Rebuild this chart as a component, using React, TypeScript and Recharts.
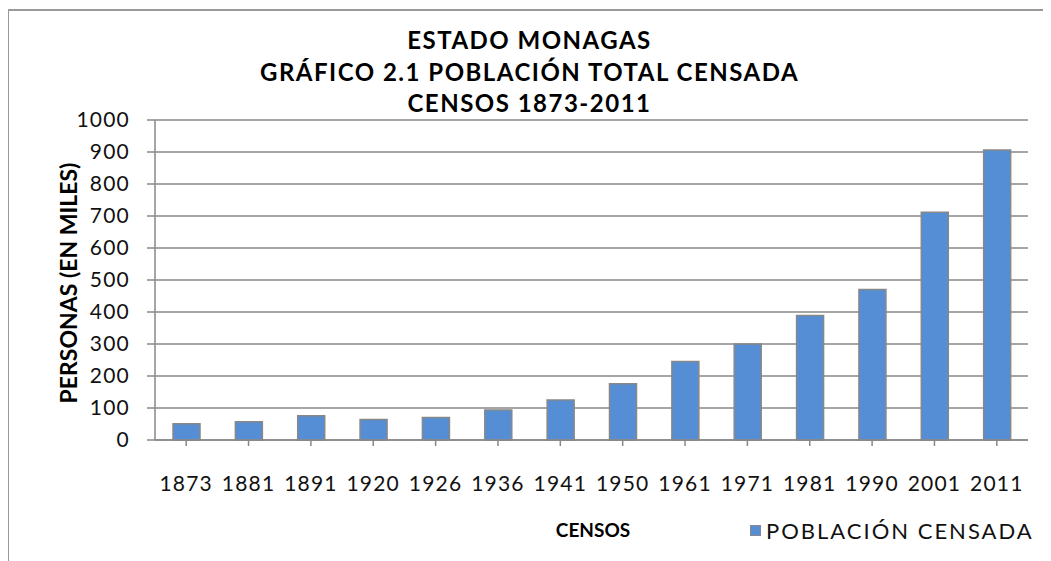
import { BarChart, Bar, XAxis, YAxis, CartesianGrid } from "recharts";

const years = ["1873", "1881", "1891", "1920", "1926", "1936", "1941", "1950", "1961", "1971", "1981", "1990", "2001", "2011"];
const poblacion = [51, 57, 76, 64, 70, 94, 125, 176, 245, 300, 389, 470, 712, 906];
const yTicks = [0, 100, 200, 300, 400, 500, 600, 700, 800, 900, 1000];

const data = years.map((y, i) => ({ censo: y, valor: poblacion[i] }));

const font = "Lato, 'Open Sans', sans-serif";
const tickStyle = { fill: "#111", fontFamily: font, fontSize: 21, letterSpacing: 1.2 };

const App = () => {
  return (
    <div style={{ position: "relative", width: 1043, height: 553 }}>
      <div style={{ position: "absolute", left: 0, top: 16, width: 1043, textAlign: "center", fontFamily: font, fontWeight: 700, fontSize: 24, letterSpacing: 1.5, lineHeight: "31.5px", color: "#000" }}>
        <div>ESTADO MONAGAS</div>
        <div>GRÁFICO 2.1 POBLACIÓN TOTAL CENSADA</div>
        <div>CENSOS 1873-2011</div>
      </div>
      <div style={{ position: "absolute", left: 60, top: 275, transform: "translate(-50%, -50%) rotate(-90deg)", whiteSpace: "nowrap", fontFamily: font, fontWeight: 700, fontSize: 23, color: "#000" }}>
        PERSONAS (EN MILES)
      </div>
      <div style={{ position: "absolute", left: 585, top: 510, transform: "translateX(-50%)", fontFamily: font, fontWeight: 700, fontSize: 19, color: "#000" }}>
        CENSOS
      </div>
      <div style={{ position: "absolute", left: 742, top: 509, display: "flex", alignItems: "center", fontFamily: font, fontSize: 22, letterSpacing: 2, color: "#111", whiteSpace: "nowrap" }}>
        <span style={{ display: "inline-block", width: 9, height: 9, background: "#558ed5", border: "1.5px solid #888", marginRight: 5 }} />
        POBLACIÓN CENSADA
      </div>
      <BarChart width={1043} height={553} data={data} margin={{ top: 112, right: 23, bottom: 91, left: 77 }} barSize={27}>
        <CartesianGrid vertical={false} stroke="#888" strokeWidth={1.5} />
        <XAxis
          dataKey="censo"
          height={30}
          stroke="#888"
          strokeWidth={1.5}
          tickSize={6}
          interval={0}
          tick={tickStyle}
          tickMargin={30}
        />
        <YAxis
          domain={[0, 1000]}
          ticks={yTicks}
          width={70}
          stroke="#888"
          strokeWidth={1.5}
          tickSize={8}
          tickMargin={17}
          tick={tickStyle}
          interval={0}
        />
        <Bar dataKey="valor" name="POBLACIÓN CENSADA" fill="#558ed5" stroke="#888" strokeWidth={1.5} isAnimationActive={false} />
      </BarChart>
      <div style={{ position: "absolute", zIndex: 2, left: -1, top: 1, width: 1044, height: 2, background: "#999" }} />
      <div style={{ position: "absolute", zIndex: 2, left: -1, top: 1, width: 2, height: 552, background: "#999" }} />
    </div>
  );
};

export default App;
